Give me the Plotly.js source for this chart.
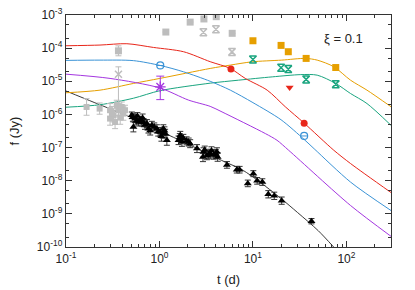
<!DOCTYPE html>
<html><head><meta charset="utf-8">
<script src="https://cdn.plot.ly/plotly-3.0.1.min.js"></script>
<style>html,body{margin:0;padding:0;background:#fff}#chart{width:415px;height:290px}</style>
</head><body><div id="chart"></div>
<script>
// ---------- model curves (t in days, f in Jy) ----------
const redT   = [0.1, 0.231, 0.448, 0.863, 1.81, 3.49, 5.73, 8.28, 14.2, 22.2, 35.2, 73.3, 110.7, 300];
const redF   = [1.18e-4, 1.24e-4, 1.36e-4, 1.05e-4, 7.8e-5, 3.9e-5, 2.44e-5, 1.22e-5, 5.4e-6, 1.7e-6, 5.5e-7, 8.3e-8, 3.3e-8, 4.4e-9];
const blueT  = [0.1, 0.231, 0.526, 1.02, 1.81, 3.49, 5.73, 10, 20, 35.2, 45.2, 110.7, 300];
const blueF  = [4.27e-5, 4.35e-5, 4.2e-5, 3.0e-5, 1.93e-5, 1.0e-5, 5.4e-6, 2.27e-6, 6.9e-7, 1.77e-7, 9.2e-8, 9.1e-9, 1.26e-9];
const purpT  = [0.1, 0.296, 1.01, 2.05, 3.49, 4.67, 13.6, 18.1, 24.1, 110.7, 300];
const purpF  = [1.64e-5, 1.22e-5, 6.3e-6, 2.7e-6, 1.75e-6, 1.19e-6, 2.64e-7, 1.66e-7, 8.3e-8, 1.79e-9, 2.1e-10];
const orngT  = [0.1, 0.231, 0.526, 1.01, 3.49, 5.73, 9.79, 20.3, 36.3, 48.7, 73.3, 110.7, 166, 300];
const orngF  = [4.5e-6, 5.4e-6, 8.6e-6, 1.22e-5, 2.44e-5, 3.08e-5, 3.87e-5, 4.35e-5, 4.9e-5, 4.35e-5, 2.75e-5, 1.08e-5, 5.4e-6, 1.71e-6];
const grnT   = [0.1, 0.231, 0.526, 1.01, 3.49, 7.0, 16.1, 32.5, 48.7, 76.9, 110.7, 166, 300];
const grnF   = [1.65e-6, 1.96e-6, 3.08e-6, 5.2e-6, 8.77e-6, 1.08e-5, 1.36e-5, 1.59e-5, 1.53e-5, 8.6e-6, 4.28e-6, 2.13e-6, 4.7e-7];
const blkLT  = [0.1, 0.2, 0.5, 1, 2, 5, 7.33, 10, 15, 20, 30, 50, 73];
const blkLF  = [5.1e-6, 2.3e-6, 8.05e-7, 3.2e-7, 1.29e-7, 3.7e-8, 2.3e-8, 1.3e-8, 5.5e-9, 2.9e-9, 1.1e-9, 3.1e-10, 1.0e-10];

// ---------- observed points ----------
const blkT = [0.506,0.549,0.596,0.526,0.647,0.62,0.70,0.733,0.829,0.762,0.795,0.938,1.02,1.10,1.15,1.20,1.05,1.60,1.67,1.74,2.05,2.13,2.52,2.96,2.92,3.22,3.49,4.12,4.19,3.8,5.27,6.72,7.2,10.1,8.81,11.1,12.6,14.6,16.9,20.3,42.3,
              0.52,0.57,0.58,0.66,0.68,0.88,0.97,1.08,1.13,1.65,1.80,1.95,3.05,3.35,3.60,4.00];
const blkF = [9.4e-7,7.5e-7,5.9e-7,4.2e-7,5.9e-7,7.0e-7,4.8e-7,5.3e-7,4.7e-7,3.7e-7,3.3e-7,3.7e-7,2.95e-7,3.7e-7,2.64e-7,1.66e-7,2.2e-7,1.66e-7,2.34e-7,1.47e-7,1.47e-7,1.31e-7,9.3e-8,7.3e-8,5.2e-8,5.8e-8,6.6e-8,7.3e-8,5.2e-8,6.0e-8,3.0e-8,2.15e-8,2.15e-8,1.63e-8,8.3e-9,9.9e-9,9.1e-9,3.9e-9,3.5e-9,2.5e-9,6.0e-10,
              8.2e-7,6.4e-7,9.0e-7,7.8e-7,5.6e-7,4.2e-7,3.0e-7,2.6e-7,3.2e-7,2.0e-7,1.9e-7,1.6e-7,8.4e-8,6.2e-8,8.0e-8,6.5e-8];
const blkErrDex = [0.10,0.12,0.12,0.15,0.12,0.10,0.13,0.12,0.12,0.13,0.14,0.12,0.13,0.12,0.13,0.15,0.15,0.13,0.12,0.13,0.12,0.12,0.12,0.13,0.14,0.13,0.13,0.13,0.13,0.13,0.10,0.10,0.10,0.09,0.10,0.10,0.10,0.11,0.11,0.11,0.08,
                   0.12,0.12,0.10,0.12,0.12,0.12,0.13,0.13,0.12,0.12,0.12,0.12,0.12,0.13,0.12,0.13];

const greyLoT = [0.166,0.229,0.296,0.322,0.364,0.395,0.335,0.411,0.296,0.349,0.428,0.31,0.38];
const greyLoF = [1.68e-6,1.5e-6,1.34e-6,9.4e-7,1.34e-6,1.68e-6,5.9e-7,1.06e-6,7.5e-7,1.9e-6,1.34e-6,1.1e-6,8.0e-7];
const greyLoErrDex = [0.25,0.17,0.2,0.2,0.2,0.15,0.2,0.2,0.2,0.15,0.15,0.2,0.2];
const greySqT = [0.364, 1.17, 2.13, 2.99, 4.05, 6.0];
const greySqF = [8.3e-5, 3.06e-4, 6.1e-4, 7.6e-4, 8.9e-4, 2.8e-4];
const greySqErrDex = [0.15, 0, 0, 0, 0, 0];
const greyXT = [0.364];
const greyXF = [1.64e-5];
const greyXUp = [2.73e-5];
const greyXLo = [9.4e-7];
const greyHgT = [2.95, 4.02, 5.97];
const greyHgF = [3.0e-4, 3.7e-4, 7.7e-5];

const orngPtT = [10.0, 20.0, 23.9, 37.1, 76.9];
const orngPtF = [1.67e-4, 1.21e-4, 7.8e-5, 4.9e-5, 2.6e-5];
const grnPtT  = [10.0, 20.0, 23.9, 37.1, 76.9];
const grnPtF  = [4.57e-5, 2.55e-5, 2.33e-5, 1.14e-5, 8.2e-6];
const redPtT  = [5.82, 35.3];
const redPtF  = [2.33e-5, 5.4e-7];
const redUlT  = [24.7];
const redUlF  = [6.5e-6];
const bluePtT = [1.02, 35.3];
const bluePtF = [3.0e-5, 2.24e-7];
const purpPtT = [1.02];
const purpPtF = [6.8e-6];
const purpPtUp = [1.43e-5];
const purpPtLo = [2.8e-6];

const xTickVals = [0.1, 1, 10, 100];
const xTickText = ['10<sup>-1</sup>','10<sup>0</sup>','10<sup>1</sup>','10<sup>2</sup>'];
const yTickVals = [1e-10,1e-9,1e-8,1e-7,1e-6,1e-5,1e-4,1e-3];
const yTickText = ['10<sup>-10</sup>','10<sup>-9</sup>','10<sup>-8</sup>','10<sup>-7</sup>','10<sup>-6</sup>','10<sup>-5</sup>','10<sup>-4</sup>','10<sup>-3</sup>'];
const xMinor = [0.2,0.3,0.4,0.5,0.6,0.7,0.8,0.9,2,3,4,5,6,7,8,9,20,30,40,50,60,70,80,90,200,300];
const yMinor = [2e-10,5e-10,2e-9,5e-9,2e-8,5e-8,2e-7,5e-7,2e-6,5e-6,2e-5,5e-5,2e-4,5e-4];

// ---------- helpers ----------
const up = (f, d) => f.map((v, i) => v * (Math.pow(10, d[i]) - 1));
const lo = (f, d) => f.map((v, i) => v * (1 - Math.pow(10, -d[i])));
const diff = (a, b) => a.map((v, i) => v - b[i]);

const RED = '#E8261A', BLUE = '#3A93D6', PURP = '#A436E0', ORNG = '#E69F00', GRN = '#1AA57F', GREY = '#BDBDBD';

const line = (x, y, c, w) => ({x, y, mode: 'lines', line: {color: c, width: w || 1, shape: 'spline', smoothing: 0.8}, hoverinfo: 'skip'});

const traces = [
  line(blkLT, blkLF, '#222', 0.9),
  line(grnT, grnF, GRN),
  line(orngT, orngF, ORNG),
  line(purpT, purpF, PURP),
  line(blueT, blueF, BLUE),
  line(redT, redF, RED),
  {x: greyLoT, y: greyLoF, mode: 'markers', marker: {symbol: 'square', size: 6, color: GREY},
   error_y: {type: 'data', symmetric: false, array: up(greyLoF, greyLoErrDex), arrayminus: lo(greyLoF, greyLoErrDex), color: GREY, thickness: 1, width: 3}},
  {x: greySqT, y: greySqF, mode: 'markers', marker: {symbol: 'square', size: 7, color: GREY},
   error_y: {type: 'data', symmetric: false, array: up(greySqF, greySqErrDex), arrayminus: lo(greySqF, greySqErrDex), color: GREY, thickness: 1, width: 3}},
  {x: greyXT, y: greyXF, mode: 'markers', marker: {symbol: 'x-thin-open', size: 7, color: GREY, line: {color: GREY, width: 1.5}},
   error_y: {type: 'data', symmetric: false, array: diff(greyXUp, greyXF), arrayminus: diff(greyXF, greyXLo), color: GREY, thickness: 1, width: 3}},
  {x: greyHgT, y: greyHgF, mode: 'markers', marker: {symbol: 'hourglass-open', size: 7, color: GREY, line: {color: GREY, width: 1.5}}},
  {x: blkT, y: blkF, mode: 'markers', marker: {symbol: 'triangle-up', size: 7, color: '#000'},
   error_y: {type: 'data', symmetric: false, array: up(blkF, blkErrDex), arrayminus: lo(blkF, blkErrDex), color: '#333', thickness: 1, width: 3}},
  {x: orngPtT, y: orngPtF, mode: 'markers', marker: {symbol: 'square', size: 7, color: ORNG}},
  {x: grnPtT, y: grnPtF, mode: 'markers', marker: {symbol: 'hourglass-open', size: 7, color: GRN, line: {color: GRN, width: 1.5}}},
  {x: redPtT, y: redPtF, mode: 'markers', marker: {symbol: 'circle', size: 7, color: RED}},
  {x: redUlT, y: redUlF, mode: 'markers', marker: {symbol: 'triangle-down', size: 7, color: RED}},
  {x: bluePtT, y: bluePtF, mode: 'markers', marker: {symbol: 'circle-open', size: 7, color: BLUE, line: {color: BLUE, width: 1.2}}},
  {x: bluePtT, y: bluePtF, mode: 'markers', marker: {symbol: 'line-ew-open', size: 5, color: BLUE, line: {color: BLUE, width: 1}}},
  {x: purpPtT, y: purpPtF, mode: 'markers', marker: {symbol: 'asterisk-open', size: 9, color: PURP, line: {color: PURP, width: 1.3}},
   error_y: {type: 'data', symmetric: false, array: diff(purpPtUp, purpPtF), arrayminus: diff(purpPtF, purpPtLo), color: PURP, thickness: 1, width: 4}}
];

const axisCommon = {
  type: 'log', showline: true, linecolor: '#333', linewidth: 1.3, mirror: 'ticks',
  ticks: 'inside', ticklen: 6, tickwidth: 1, tickcolor: '#333', showgrid: false, zeroline: false,
  tickmode: 'array', tickfont: {family: 'Liberation Sans, Arial, sans-serif', size: 12, color: '#222'}
};

const layout = {
  width: 415, height: 290,
  margin: {l: 66, r: 24, t: 15, b: 43},
  paper_bgcolor: '#fff', plot_bgcolor: '#fff',
  showlegend: false,
  font: {family: 'Liberation Sans, Arial, sans-serif', size: 12, color: '#222'},
  xaxis: Object.assign({}, axisCommon, {
    range: [-1, Math.log10(300)], tickvals: xTickVals, ticktext: xTickText,
    minor: {tickmode: 'array', tickvals: xMinor, ticks: 'inside', ticklen: 3, tickcolor: '#333', tickwidth: 1},
    title: {text: 't (d)', font: {size: 13, color: '#222'}, standoff: 10}
  }),
  yaxis: Object.assign({}, axisCommon, {
    range: [-10, -3], tickvals: yTickVals, ticktext: yTickText,
    minor: {tickmode: 'array', tickvals: yMinor, ticks: 'inside', ticklen: 3, tickcolor: '#333', tickwidth: 1},
    title: {text: 'f (Jy)', font: {size: 13, color: '#222'}, standoff: 14}
  }),
  annotations: [{
    xref: 'paper', yref: 'paper', x: 0.855, y: 0.90, text: 'ξ = 0.1', showarrow: false,
    font: {size: 13, color: '#222'}, xanchor: 'center', yanchor: 'middle'
  }]
};

Plotly.newPlot('chart', traces, layout, {staticPlot: true, displayModeBar: false});
</script></body></html>
